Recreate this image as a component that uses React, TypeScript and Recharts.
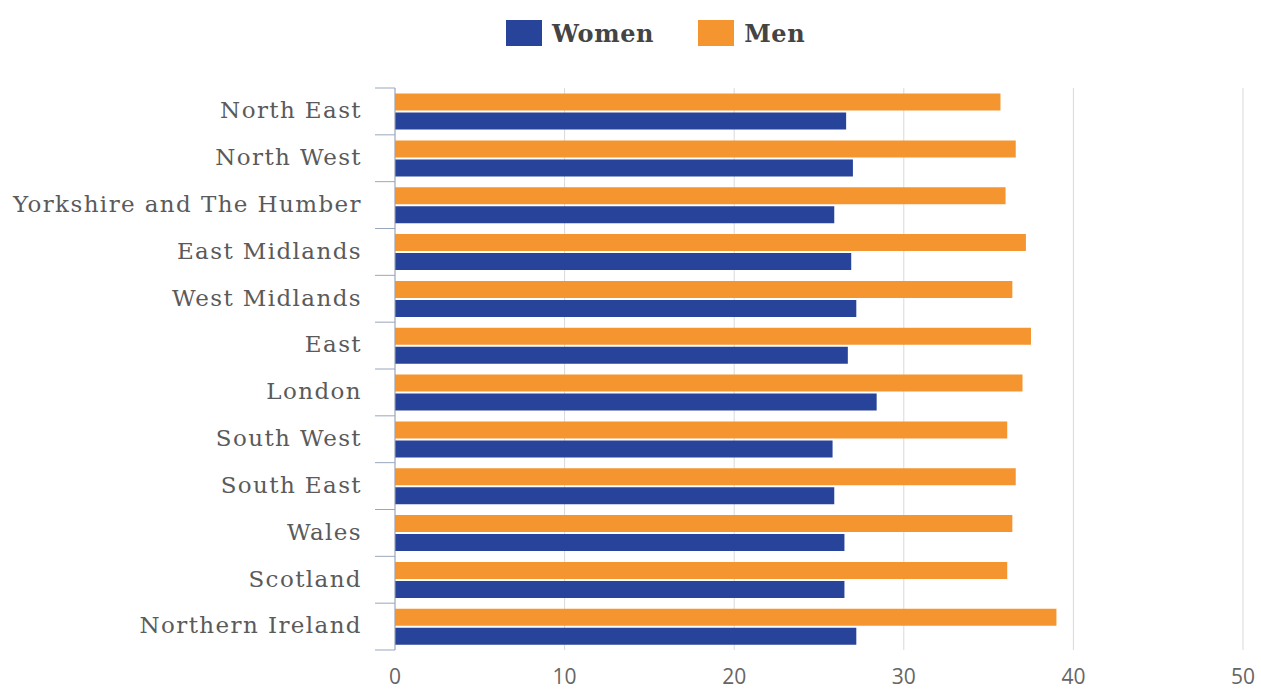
import React from "react";
import { BarChart, Bar, XAxis, YAxis, CartesianGrid } from "recharts";

const regions = [
  "North East",
  "North West",
  "Yorkshire and The Humber",
  "East Midlands",
  "West Midlands",
  "East",
  "London",
  "South West",
  "South East",
  "Wales",
  "Scotland",
  "Northern Ireland",
];
const women = [26.6, 27.0, 25.9, 26.9, 27.2, 26.7, 28.4, 25.8, 25.9, 26.5, 26.5, 27.2];
const men = [35.7, 36.6, 36.0, 37.2, 36.4, 37.5, 37.0, 36.1, 36.6, 36.4, 36.1, 39.0];
const xTicks = [0, 10, 20, 30, 40, 50];

const data = regions.map((r, i) => ({ region: r, Women: women[i], Men: men[i] }));

const W = 1261;
const H = 690;
const MARGIN = { top: 88, right: 18, bottom: 0, left: 0 };
const Y_WIDTH = 395;
const X_HEIGHT = 40;
const PLOT_TOP = MARGIN.top;
const PLOT_BOTTOM = H - MARGIN.bottom - X_HEIGHT;
const BAND = (PLOT_BOTTOM - PLOT_TOP) / regions.length;
const AXIS_X = MARGIN.left + Y_WIDTH;

const BLUE = "#28449a";
const ORANGE = "#f5952f";

const CategoryTick = (props: any) => {
  const { y, payload, index } = props;
  const top = y - BAND / 2;
  const bottom = y + BAND / 2;
  return (
    <g>
      <line x1={AXIS_X - 20} x2={AXIS_X} y1={top} y2={top} stroke="#9aa6bd" strokeWidth={1} />
      {index === regions.length - 1 && (
        <line x1={AXIS_X - 20} x2={AXIS_X} y1={bottom} y2={bottom} stroke="#9aa6bd" strokeWidth={1} />
      )}
      <text
        x={AXIS_X - 33}
        y={y}
        dy="0.3em"
        textAnchor="end"
        fill="#5a5a5a"
        fontFamily="'DejaVu Serif', serif"
        fontSize={23}
        letterSpacing={1.4}
      >
        {payload.value}
      </text>
    </g>
  );
};

const LegendItem = ({ color, label, gap }: { color: string; label: string; gap: number }) => (
  <div style={{ display: "flex", alignItems: "center", marginRight: gap }}>
    <div style={{ width: 36, height: 26, background: color, marginRight: 10 }} />
    <span
      style={{
        fontFamily: "'DejaVu Serif', serif",
        fontWeight: "bold",
        fontSize: 24,
        letterSpacing: 0.6,
        color: "#444",
      }}
    >
      {label}
    </span>
  </div>
);

export default function App() {
  return (
    <div style={{ position: "absolute", left: 0, top: 0, width: W, height: H, background: "#fff" }}>
      <div
        style={{
          position: "absolute",
          left: 506,
          top: 20,
          display: "flex",
          alignItems: "center",
          height: 26,
        }}
      >
        <LegendItem color={BLUE} label="Women" gap={44} />
        <LegendItem color={ORANGE} label="Men" gap={0} />
      </div>
      <BarChart
        width={W}
        height={H}
        data={data}
        layout="vertical"
        margin={MARGIN}
        barCategoryGap="12%"
        barGap={2}
      >
        <CartesianGrid horizontal={false} vertical={true} stroke="#d9d9d9" />
        <XAxis
          type="number"
          domain={[0, 50]}
          ticks={xTicks}
          axisLine={false}
          tickLine={false}
          height={X_HEIGHT}
          tickMargin={13}
          tick={{ fill: "#666", fontSize: 21, fontFamily: "'Open Sans', sans-serif" }}
          interval={0}
        />
        <YAxis
          type="category"
          dataKey="region"
          width={Y_WIDTH}
          axisLine={{ stroke: "#9aa6bd" }}
          tickLine={false}
          tick={<CategoryTick />}
          interval={0}
        />
        <Bar dataKey="Men" fill={ORANGE} isAnimationActive={false} />
        <Bar dataKey="Women" fill={BLUE} isAnimationActive={false} />
      </BarChart>
    </div>
  );
}
